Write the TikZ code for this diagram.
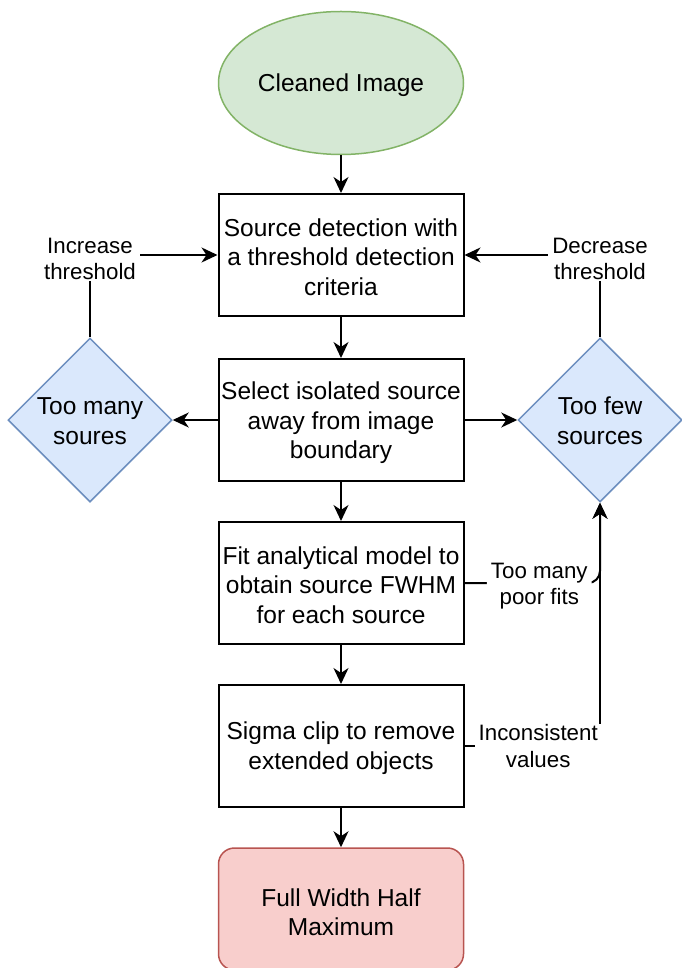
\documentclass[tikz,border=0pt]{standalone}
\usepackage{fontspec}
\setmainfont{Liberation Sans}
\usetikzlibrary{arrows.meta,shapes.geometric}
\definecolor{gfill}{HTML}{D5E8D4}
\definecolor{gline}{HTML}{82B366}
\definecolor{bfill}{HTML}{DAE8FC}
\definecolor{bline}{HTML}{6C8EBF}
\definecolor{rfill}{HTML}{F8CECC}
\definecolor{rline}{HTML}{B85450}
\begin{document}
\begin{tikzpicture}[x=1pt,y=-1pt,
  nodefont/.style={font=\fontsize{24.5}{29.5}\selectfont},
  box/.style={draw=black,line width=2pt,minimum width=245pt,minimum height=122pt,inner sep=0pt},
  boxtext/.style={align=center,inner sep=0pt,nodefont},
  startnode/.style={ellipse,draw=gline,fill=gfill,line width=1.5pt,minimum width=245pt,minimum height=143pt,inner sep=0pt},
  endnode/.style={draw=rline,fill=rfill,line width=1.5pt,rounded corners=16pt,minimum width=245pt,minimum height=122pt,inner sep=0pt},
  dia/.style={diamond,draw=bline,fill=bfill,line width=1.5pt,minimum width=164pt,minimum height=164pt,inner sep=0pt},
  arr/.style={draw=black,line width=2pt,-{Stealth[length=16pt,width=15pt,inset=5pt]}},
  lbl/.style={fill=white,inner xsep=4pt,inner ysep=1pt,align=center,font=\fontsize{22.3}{26.5}\selectfont}
]
\useasboundingbox (0,0) rectangle (681,968);

\node[startnode] (ell) at (341,83) {};
\node[boxtext] (ellt) at ([yshift=-2pt]ell.center) {Cleaned Image};
\node[box] (b1) at (341,255) {};
\node[boxtext] (b1t) at ([yshift=-2pt]b1.center) {Source detection with\\a threshold detection\\criteria};
\node[box] (b2) at (341,420) {};
\node[boxtext] (b2t) at ([yshift=-3pt]b2.center) {Select isolated source\\away from image\\boundary};
\node[box] (b3) at (341,583) {};
\node[boxtext] (b3t) at ([yshift=-2pt]b3.center) {Fit analytical model to\\obtain source FWHM\\for each source};
\node[box] (b4) at (341,746) {};
\node[boxtext] (b4t) at ([yshift=-2pt]b4.center) {Sigma clip to remove\\extended objects};
\node[endnode] (b5) at (341,909) {};
\node[boxtext] (b5t) at ([yshift=-3pt]b5.center) {Full Width Half\\Maximum};

\node[dia] (ld) at (90,420) {};
\node[boxtext] (ldt) at ([yshift=-1pt]ld.center) {Too many\\soures};
\node[dia] (rd) at (600,420) {};
\node[boxtext] (rdt) at ([yshift=-1pt]rd.center) {Too few\\sources};

\draw[arr] (ell) -- (b1);
\draw[arr] (b1) -- (b2);
\draw[arr] (b2) -- (b3);
\draw[arr] (b3) -- (b4);
\draw[arr] (b4) -- (b5);

\draw[arr] (b2.west) -- (ld.east);
\draw[arr] (b2.east) -- (rd.west);

\draw[arr] (ld.north) |- (b1.west) node[lbl,pos=0.5,yshift=-4pt] {Increase\\threshold};
\draw[arr] (rd.north) |- (b1.east) node[lbl,pos=0.5,yshift=-4pt] {Decrease\\threshold};

\draw[arr] (b4.east) -| (rd.south) node[lbl,pos=0.272] {Inconsistent\\values};
\draw[arr,rounded corners=12pt] (b3.east) -| (rd.south) node[lbl,pos=0.276,yshift=-3pt] {Too many\\poor fits};
\end{tikzpicture}
\end{document}
